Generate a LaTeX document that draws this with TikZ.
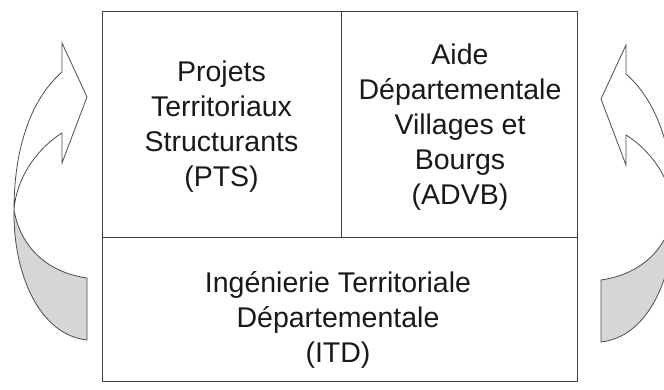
\documentclass[tikz,border=0pt]{standalone}
\usepackage{fontspec}
\setmainfont{Liberation Sans}
\begin{document}
\begin{tikzpicture}[x=1pt,y=-1pt,
  cell/.style={draw=black!75, line width=1.1pt, inner sep=0pt, anchor=north west},
  txt/.style={font=\fontsize{28.5}{35}\selectfont, align=center, inner sep=0pt, text=black!90},
  arrowline/.style={draw=black!70, line width=0.8pt, line join=miter},
  backfill/.style={fill=black!16},
  turnarrow/.pic={
    \fill[backfill] (14,210) .. controls (13,275) and (40,335) .. (87,340)
      -- (87,278) .. controls (45,272) and (20,245) .. (14,210) -- cycle;
    \draw[arrowline] (62,72) .. controls (30,100) and (14,150) .. (14,210)
      .. controls (13,275) and (40,335) .. (87,340) -- (87,278)
      .. controls (45,272) and (20,245) .. (14,210)
      .. controls (16,180) and (35,150) .. (62,133)
      -- (62,163) -- (87,97) -- (62,43) -- cycle;
  }]
\useasboundingbox (0,0) rectangle (664,390);
\clip (0,0) rectangle (664,390);
% curved arrows
\pic (leftarrow) at (0,0) {turnarrow};
\pic (rightarrow) [xscale=-1] at (688,2) {turnarrow};
% cells
\node[cell, minimum width=239pt, minimum height=226pt] (pts) at (102,11) {};
\node[cell, minimum width=236pt, minimum height=226pt] (advb) at (341,11) {};
\node[cell, minimum width=475pt, minimum height=144pt] (itd) at (102,237) {};
% texts
\node[txt] (ptstext) at (221.5,127) {Projets\\Territoriaux\\Structurants\\(PTS)};
\node[txt] (advbtext) at (460,127) {Aide\\Départementale\\Villages et\\Bourgs\\(ADVB)};
\node[txt] (itdtext) at (338,320) {Ingénierie Territoriale\\Départementale\\(ITD)};
\end{tikzpicture}
\end{document}
